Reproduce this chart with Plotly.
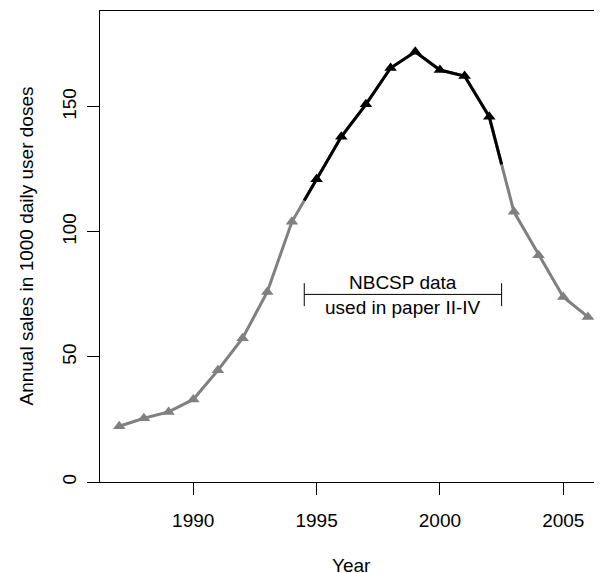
import numpy as np
import plotly.graph_objects as go

years = [1987, 1988, 1989, 1990, 1991, 1992, 1993, 1994, 1995, 1996,
         1997, 1998, 1999, 2000, 2001, 2002, 2003, 2004, 2005, 2006]
sales = [22.3, 25.5, 28.0, 33.0, 44.7, 57.5, 76.0, 104.0, 121.0, 138.0,
         151.0, 165.5, 172.0, 164.7, 162.3, 146.0, 108.0, 90.7, 74.0, 66.0]

nbcsp_start = 1994.5
nbcsp_end = 2002.5
bracket_y = 75
bracket_tick_lo = 70.3
bracket_tick_hi = 79.5
label_top = "NBCSP data"
label_bottom = "used in paper II-IV"

x_ticks = [1990, 1995, 2000, 2005]
y_ticks = [0, 50, 100, 150]

GRAY = "#808080"
FONT = "Liberation Sans, Arial, sans-serif"
FS = 19

yrs = np.array(years, dtype=float)
vals = np.array(sales, dtype=float)
inside = (yrs > nbcsp_start) & (yrs < nbcsp_end)
seg_x = np.concatenate([[nbcsp_start], yrs[inside], [nbcsp_end]])
seg_y = np.interp(seg_x, yrs, vals)

fig = go.Figure()
fig.add_trace(go.Scatter(x=years, y=sales, mode="lines",
                         line=dict(color=GRAY, width=3), hoverinfo="skip"))
fig.add_trace(go.Scatter(x=yrs[~inside], y=vals[~inside], mode="markers",
                         marker=dict(symbol="triangle-up", size=11, color=GRAY)))
fig.add_trace(go.Scatter(x=seg_x, y=seg_y, mode="lines",
                         line=dict(color="black", width=3), hoverinfo="skip"))
fig.add_trace(go.Scatter(x=yrs[inside], y=vals[inside], mode="markers",
                         marker=dict(symbol="triangle-up", size=11, color="black")))
fig.add_trace(go.Scatter(x=[nbcsp_start, nbcsp_end], y=[bracket_y, bracket_y], mode="lines",
                         line=dict(color="black", width=1), hoverinfo="skip"))
for xx in (nbcsp_start, nbcsp_end):
    fig.add_trace(go.Scatter(x=[xx, xx], y=[bracket_tick_lo, bracket_tick_hi], mode="lines",
                             line=dict(color="black", width=1), hoverinfo="skip"))

mid = (nbcsp_start + nbcsp_end) / 2
fig.add_annotation(x=mid, y=bracket_y, text=label_top, showarrow=False,
                   yanchor="bottom", yshift=-1, font=dict(family=FONT, size=FS, color="black"))
fig.add_annotation(x=mid, y=bracket_y, text=label_bottom, showarrow=False,
                   yanchor="top", yshift=-1, font=dict(family=FONT, size=FS, color="black"))

fig.add_annotation(xref="paper", yref="paper", x=0.5, y=0, yshift=-83, text="Year",
                   showarrow=False, yanchor="middle",
                   font=dict(family=FONT, size=FS, color="black"))
fig.add_annotation(xref="paper", yref="paper", x=0, xshift=-74, y=0.5,
                   text="Annual sales in 1000 daily user doses", textangle=-90,
                   showarrow=False, xanchor="center", yanchor="middle",
                   font=dict(family=FONT, size=FS, color="black"))

fig.update_layout(
    width=594, height=565,
    margin=dict(l=92, r=0, t=3, b=91),
    paper_bgcolor="white", plot_bgcolor="white",
    showlegend=False,
    font=dict(family=FONT, size=FS, color="black"),
)
fig.update_xaxes(range=[1986.22, 2006.57], tickvals=x_ticks, showgrid=False, zeroline=False,
                 showline=True, linecolor="black", linewidth=1, mirror=True,
                 ticks="outside", ticklen=12, tickcolor="black", tickwidth=1,
                 ticklabelstandoff=9, tickfont=dict(family=FONT, size=FS, color="black"))
fig.update_yaxes(range=[0, 188.3], tickvals=y_ticks, showgrid=False, zeroline=False,
                 showline=True, linecolor="black", linewidth=1,
                 ticks="outside", ticklen=12, tickcolor="black", tickwidth=1,
                 tickangle=-90, ticklabelstandoff=3,
                 tickfont=dict(family=FONT, size=FS, color="black"))

fig.write_html("out.html")
